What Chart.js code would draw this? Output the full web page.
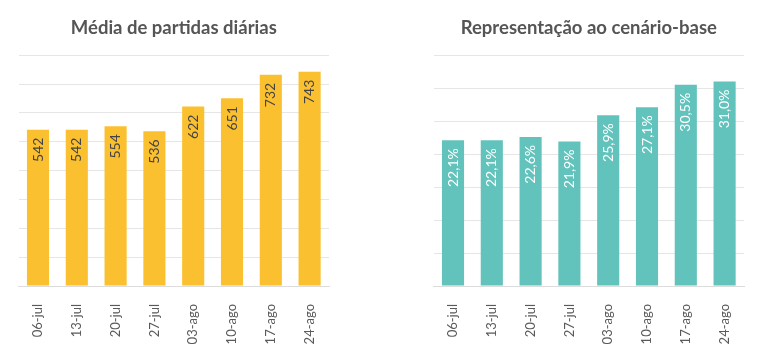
<!DOCTYPE html>
<html>
<head>
<meta charset="utf-8">
<script src="https://cdn.jsdelivr.net/npm/chart.js@4"></script>
<style>
  body{margin:0;background:#fff;width:764px;height:346px;overflow:hidden;position:relative}
  .box{position:absolute;top:0;width:382px;height:346px}
</style>
</head>
<body>
<div class="box" style="left:0"><canvas id="partidas"></canvas></div>
<div class="box" style="left:382px"><canvas id="cenario"></canvas></div>
<script>
const semanas = ['06-jul','13-jul','20-jul','27-jul','03-ago','10-ago','17-ago','24-ago'];
const partidas = [542, 542, 554, 536, 622, 651, 732, 743];
const representacao = [22.1, 22.1, 22.6, 21.9, 25.9, 27.1, 30.5, 31.0];

const FONT = 'Lato, "Open Sans", sans-serif';

// rotated value labels inside the top of each bar
const valueLabels = {
  id:'valueLabels',
  afterDatasetsDraw(chart, args, opts){
    const c = chart.ctx;
    const meta = chart.getDatasetMeta(0);
    const vals = chart.data.datasets[0].data;
    meta.data.forEach((bar,i)=>{
      c.save();
      c.translate(bar.x, bar.y + 8);
      c.rotate(-Math.PI/2);
      c.font = '14px ' + FONT;
      c.fillStyle = opts.color;
      c.textAlign = 'right';
      c.textBaseline = 'middle';
      c.fillText(opts.format(vals[i]), 0, 0);
      c.restore();
    });
  }
};

function makeChart(id, title, values, color, max, step, labelColor, fmt, padL, padR){
  const ctx = document.getElementById(id).getContext('2d');
  return new Chart(ctx,{
    type:'bar',
    data:{
      labels:semanas,
      datasets:[{
        data:values,
        backgroundColor:color,
        borderWidth:0,
        barPercentage:0.57,
        categoryPercentage:1
      }]
    },
    options:{
      responsive:false,
      animation:false,
      layout:{padding:{left:padL, right:padR, top:0, bottom:0}},
      plugins:{
        legend:{display:false},
        tooltip:{enabled:false},
        title:{display:true, text:title, color:'#555',
          font:{family:FONT, size:18.5, weight:'bold'}, padding:{top:17, bottom:16}},
        valueLabels:{color:labelColor, format:fmt}
      },
      scales:{
        x:{
          grid:{display:false},
          border:{display:true, color:'#dcdcdc'},
          ticks:{color:'#5a5a5a', minRotation:90, maxRotation:90, padding:10,
            font:{family:FONT, size:13}},
          afterFit(s){ s.height = 60; }
        },
        y:{
          min:0, max:max,
          ticks:{display:false, stepSize:step},
          grid:{color:'#e6e6e6', drawTicks:false},
          border:{display:false},
          afterFit(s){ s.width = 0; }
        }
      }
    },
    plugins:[valueLabels]
  });
}

document.getElementById('partidas').width = 382;
document.getElementById('partidas').height = 346;
document.getElementById('cenario').width = 382;
document.getElementById('cenario').height = 346;

makeChart('partidas','Média de partidas diárias', partidas, '#FBC02F', 800, 100, '#444',
  v => String(v), 18.6, 53);
makeChart('cenario','Representação ao cenário-base', representacao, '#62C3BC', 35, 5, '#ffffff',
  v => v.toFixed(1).replace('.', ',') + '%', 51.6, 20);
</script>
</body>
</html>
